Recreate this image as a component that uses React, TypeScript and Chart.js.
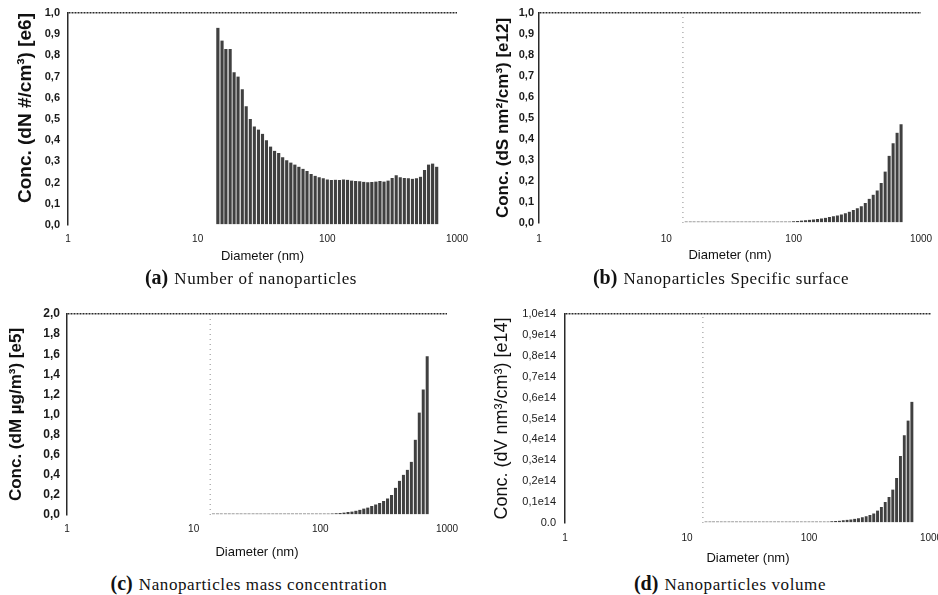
import React, { useEffect, useRef } from 'react';
import { Chart, registerables } from 'chart.js';

Chart.register(...registerables);
Chart.defaults.font.family = "'Liberation Sans', Arial, sans-serif";

// ---------- data ----------
const DIAMETERS = [
  14.4, 15.5, 16.6, 17.9, 19.2, 20.6, 22.2, 23.8, 25.6, 27.5,
  29.6, 31.8, 34.1, 36.7, 39.4, 42.4, 45.5, 48.9, 52.6, 56.5,
  60.7, 65.3, 70.1, 75.4, 81.0, 87.0, 93.5, 100.5, 108.0, 116.0,
  124.7, 134.0, 144.0, 154.7, 166.3, 178.7, 192.0, 206.3, 221.7, 238.3,
  256.1, 275.2, 295.7, 317.8, 341.5, 367.0, 394.3, 423.7, 455.4, 489.3,
  525.8, 565.1, 607.2, 652.5, 701.2,
];

const NUMBER_E6 = [
  0.93, 0.87, 0.83, 0.83, 0.72, 0.70, 0.64, 0.56, 0.50, 0.465,
  0.45, 0.43, 0.40, 0.37, 0.35, 0.34, 0.32, 0.305, 0.295, 0.285,
  0.275, 0.265, 0.255, 0.24, 0.232, 0.225, 0.22, 0.215, 0.212, 0.214,
  0.212, 0.215, 0.213, 0.21, 0.208, 0.206, 0.204, 0.202, 0.203, 0.205,
  0.208, 0.205, 0.21, 0.222, 0.235, 0.225, 0.222, 0.22, 0.218, 0.22,
  0.228, 0.26, 0.285, 0.29, 0.275,
];

const SURFACE_E12 = [
  0.001, 0.001, 0.001, 0.001, 0.001, 0.001, 0.001, 0.001, 0.0015, 0.0015,
  0.0015, 0.002, 0.002, 0.002, 0.002, 0.002, 0.0025, 0.0025, 0.003, 0.003,
  0.0035, 0.004, 0.004, 0.0045, 0.005, 0.006, 0.007, 0.008, 0.010, 0.012,
  0.013, 0.015, 0.017, 0.019, 0.022, 0.025, 0.028, 0.032, 0.036, 0.041,
  0.047, 0.054, 0.062, 0.07, 0.08, 0.095, 0.115, 0.135, 0.155, 0.19,
  0.245, 0.32, 0.38, 0.43, 0.47,
];

const MASS_E5 = [
  0.002, 0.002, 0.002, 0.002, 0.002, 0.002, 0.002, 0.003, 0.003, 0.003,
  0.003, 0.003, 0.003, 0.003, 0.003, 0.004, 0.004, 0.004, 0.004, 0.004,
  0.005, 0.005, 0.006, 0.006, 0.007, 0.008, 0.009, 0.010, 0.011, 0.013,
  0.016, 0.018, 0.021, 0.025, 0.03, 0.035, 0.043, 0.052, 0.065, 0.075,
  0.09, 0.105, 0.12, 0.14, 0.165, 0.2, 0.27, 0.34, 0.40, 0.45,
  0.53, 0.75, 1.02, 1.25, 1.58,
];

const VOLUME_E14 = [
  0.002, 0.002, 0.002, 0.002, 0.002, 0.002, 0.002, 0.002, 0.002, 0.002,
  0.002, 0.002, 0.002, 0.002, 0.002, 0.0025, 0.0025, 0.0025, 0.0025, 0.0025,
  0.003, 0.003, 0.003, 0.003, 0.003, 0.003, 0.0035, 0.0035, 0.004, 0.0045,
  0.005, 0.006, 0.007, 0.008, 0.009, 0.011, 0.013, 0.015, 0.017, 0.02,
  0.023, 0.027, 0.032, 0.038, 0.046, 0.06, 0.076, 0.1, 0.125, 0.16,
  0.215, 0.32, 0.42, 0.49, 0.58,
];

const X_TICKS = [1, 10, 100, 1000];
const X_TICK_LABELS = ['1', '10', '100', '1000'];
const GUIDE_DIAMETER = 13.5;

const Y_LABELS_A = ['0,0', '0,1', '0,2', '0,3', '0,4', '0,5', '0,6', '0,7', '0,8', '0,9', '1,0'];
const Y_LABELS_B = ['0,0', '0,1', '0,2', '0,3', '0,4', '0,5', '0,6', '0,7', '0,8', '0,9', '1,0'];
const Y_LABELS_C = ['0,0', '0,2', '0,4', '0,6', '0,8', '1,0', '1,2', '1,4', '1,6', '1,8', '2,0'];
const Y_LABELS_D = ['0.0', '0,1e14', '0,2e14', '0,3e14', '0,4e14', '0,5e14', '0,6e14', '0,7e14', '0,8e14', '0,9e14', '1,0e14'];

// ---------- layout / style ----------
type Panel = {
  key: string;
  left: number; top: number; width: number; height: number;
  padTop: number; padRight: number; yAxisW: number; xAxisH: number;
  values: number[]; yMax: number; yStep: number; yLabels: string[];
  yTitle: string; yTitleSize: number; yTitleWeight: string; yTitlePad: number; yTitleAlign: 'start' | 'center' | 'end';
  yTickSize: number; yTickWeight: string; yTickPad: number;
  xTickPad: number; xTitlePad: number;
  guide: boolean; minBar: number;
  letter: string; caption: string; capX: number; capY: number;
};

const PANELS: Panel[] = [
  {
    key: 'a', left: 0, top: 0, width: 469, height: 268,
    padTop: 13, padRight: 12, yAxisW: 68, xAxisH: 43,
    values: NUMBER_E6, yMax: 1, yStep: 0.1, yLabels: Y_LABELS_A,
    yTitle: 'Conc. (dN #/cm³) [e6]', yTitleSize: 19, yTitleWeight: 'bold', yTitlePad: 14, yTitleAlign: 'end',
    yTickSize: 11, yTickWeight: 'bold', yTickPad: 8,
    xTickPad: 8, xTitlePad: 4,
    guide: false, minBar: 0,
    letter: '(a)', caption: 'Number of nanoparticles', capX: 251, capY: 277,
  },
  {
    key: 'b', left: 469, top: 0, width: 469, height: 268,
    padTop: 13, padRight: 17, yAxisW: 70, xAxisH: 45,
    values: SURFACE_E12, yMax: 1, yStep: 0.1, yLabels: Y_LABELS_B,
    yTitle: 'Conc. (dS nm²/cm³) [e12]', yTitleSize: 17, yTitleWeight: 'bold', yTitlePad: 24, yTitleAlign: 'center',
    yTickSize: 11, yTickWeight: 'bold', yTickPad: 5,
    xTickPad: 10, xTitlePad: 5,
    guide: true, minBar: 1.5,
    letter: '(b)', caption: 'Nanoparticles Specific surface', capX: 721, capY: 277,
  },
  {
    key: 'c', left: 0, top: 290, width: 469, height: 274,
    padTop: 24, padRight: 22, yAxisW: 67, xAxisH: 49,
    values: MASS_E5, yMax: 2, yStep: 0.2, yLabels: Y_LABELS_C,
    yTitle: 'Conc. (dM µg/m³) [e5]', yTitleSize: 17, yTitleWeight: 'bold', yTitlePad: 6, yTitleAlign: 'center',
    yTickSize: 12, yTickWeight: 'bold', yTickPad: 7,
    xTickPad: 8, xTitlePad: 4,
    guide: true, minBar: 1.5,
    letter: '(c)', caption: 'Nanoparticles mass concentration', capX: 249, capY: 583,
  },
  {
    key: 'd', left: 469, top: 290, width: 469, height: 280,
    padTop: 24, padRight: 7, yAxisW: 96, xAxisH: 47,
    values: VOLUME_E14, yMax: 1, yStep: 0.1, yLabels: Y_LABELS_D,
    yTitle: 'Conc. (dV nm³/cm³) [e14]', yTitleSize: 18, yTitleWeight: 'normal', yTitlePad: 22, yTitleAlign: 'center',
    yTickSize: 11, yTickWeight: 'normal', yTickPad: 9,
    xTickPad: 9, xTitlePad: 4,
    guide: true, minBar: 1.5,
    letter: '(d)', caption: 'Nanoparticles volume', capX: 730, capY: 583,
  },
];

const BAR_FILL = '#404040';
const BAR_EDGE = 'rgba(255,255,255,0.35)';
const AXIS_COLOR = '#2a2a2a';
const TEXT_COLOR = '#1a1a1a';

function PanelChart({ p }: { p: Panel }) {
  const ref = useRef<HTMLCanvasElement>(null);

  useEffect(() => {
    const canvas = ref.current;
    if (!canvas) return;
    const datasets: any[] = [
      {
        type: 'bar',
        data: DIAMETERS.map((d, i) => ({ x: d, y: p.values[i] })),
        backgroundColor: BAR_FILL,
        borderColor: BAR_EDGE,
        borderWidth: { left: 0, right: 1, top: 0, bottom: 0 },
        barPercentage: 1,
        categoryPercentage: 1,
        minBarLength: p.minBar,
        order: 2,
      },
    ];
    if (p.guide) {
      datasets.push({
        type: 'line',
        data: [
          { x: GUIDE_DIAMETER, y: 0 },
          { x: GUIDE_DIAMETER, y: p.yMax },
        ],
        borderColor: '#8a8a8a',
        borderWidth: 1,
        borderDash: [1, 4],
        pointRadius: 0,
        order: 1,
      });
    }

    const chart = new Chart(canvas, {
      type: 'bar',
      data: { datasets },
      options: {
        responsive: false,
        animation: false,
        devicePixelRatio: 1,
        layout: { padding: { left: 0, top: p.padTop, right: p.padRight, bottom: 0 } },
        plugins: {
          legend: { display: false },
          tooltip: { enabled: false },
          title: { display: false },
        },
        scales: {
          x: {
            type: 'logarithmic',
            min: 1,
            max: 1000,
            offset: false,
            grid: { display: false, drawTicks: false },
            border: { display: false },
            afterBuildTicks: (s: any) => {
              s.ticks = X_TICKS.map((v) => ({ value: v }));
            },
            ticks: {
              autoSkip: false,
              maxRotation: 0,
              padding: p.xTickPad,
              color: TEXT_COLOR,
              font: { size: 10 },
              callback: (_v: any, i: number) => X_TICK_LABELS[i],
            },
            title: {
              display: true,
              text: 'Diameter (nm)',
              color: '#111',
              font: { size: 13 },
              padding: { top: p.xTitlePad, bottom: p.xTitlePad },
            },
            afterFit: (s: any) => {
              s.height = p.xAxisH;
              s.paddingLeft = 0;
              s.paddingRight = 0;
            },
          },
          y: {
            min: 0,
            max: p.yMax,
            ticks: {
              stepSize: p.yStep,
              padding: p.yTickPad,
              color: TEXT_COLOR,
              font: { size: p.yTickSize, weight: p.yTickWeight as any },
              callback: (_v: any, i: number) => p.yLabels[i],
            },
            grid: {
              drawTicks: false,
              lineWidth: 1.5,
              color: (c: any) =>
                c.tick && Math.abs(c.tick.value - p.yMax) < 1e-6 ? AXIS_COLOR : 'rgba(0,0,0,0)',
            },
            border: { display: true, color: AXIS_COLOR, width: 1.5, dash: [2, 1] },
            title: {
              display: true,
              text: p.yTitle,
              align: p.yTitleAlign,
              color: '#111',
              font: { size: p.yTitleSize, weight: p.yTitleWeight as any },
              padding: { top: p.yTitlePad, bottom: p.yTitlePad },
            },
            afterFit: (s: any) => {
              s.width = p.yAxisW;
              s.paddingTop = 0;
              s.paddingBottom = 0;
            },
          },
        },
      } as any,
    });
    return () => chart.destroy();
  }, [p]);

  return (
    <canvas
      ref={ref}
      width={p.width}
      height={p.height}
      style={{ position: 'absolute', left: p.left, top: p.top, width: p.width, height: p.height }}
    />
  );
}

export default function App() {
  return (
    <div
      style={{
        position: 'absolute',
        left: 0,
        top: 0,
        width: 938,
        height: 595,
        background: '#ffffff',
        overflow: 'hidden',
      }}
    >
      {PANELS.map((p) => (
        <PanelChart key={p.key} p={p} />
      ))}
      {PANELS.map((p) => (
        <div
          key={'cap-' + p.key}
          style={{
            position: 'absolute',
            left: p.capX,
            top: p.capY,
            transform: 'translate(-50%, -50%)',
            whiteSpace: 'nowrap',
            fontFamily: "'Liberation Serif', 'Times New Roman', serif",
            color: '#111',
            lineHeight: 1,
          }}
        >
          <span style={{ fontWeight: 'bold', fontSize: 20 }}>{p.letter}</span>
          <span style={{ fontSize: 17, letterSpacing: 0.6, marginLeft: 6 }}>{p.caption}</span>
        </div>
      ))}
    </div>
  );
}
